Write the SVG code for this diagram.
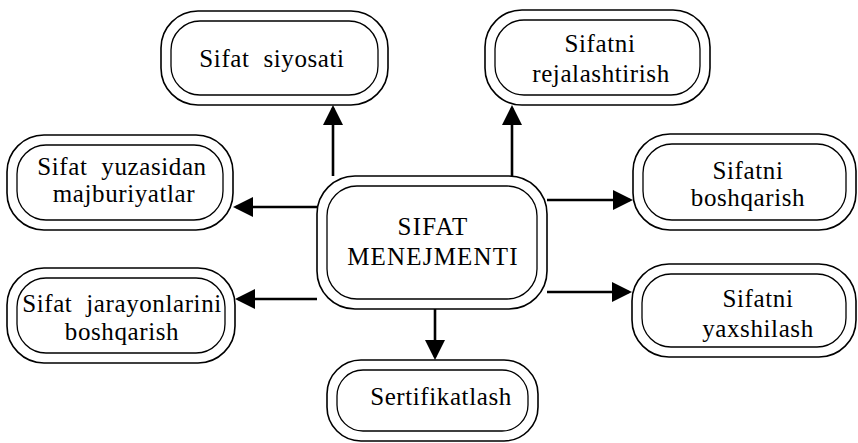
<svg xmlns="http://www.w3.org/2000/svg" width="858" height="443" viewBox="0 0 858 443">
<style>
.o{fill:#fff;stroke:#000;stroke-width:1.6}
.i{fill:none;stroke:#000;stroke-width:1.3}
.t{font-family:"Liberation Serif","Times New Roman",serif;font-size:25px;fill:#000;text-anchor:middle;letter-spacing:0.6px}
.w{word-spacing:7px}
.c{letter-spacing:1.2px}
.e{fill:none;stroke:#000;stroke-width:2.6}
</style>
<defs>
<marker id="ah" markerUnits="userSpaceOnUse" markerWidth="21" markerHeight="21" refX="17" refY="10" orient="auto" viewBox="0 0 21 21">
<path d="M0,0 L20,10 L0,20 Z" fill="#000"/>
</marker>
</defs>
<rect width="858" height="443" fill="#fff"/>
<g id="connectors">
<path class="e" d="M333,176 V108" marker-end="url(#ah)"/>
<path class="e" d="M512,176 V108" marker-end="url(#ah)"/>
<path class="e" d="M547,200 H630" marker-end="url(#ah)"/>
<path class="e" d="M547,292 H629" marker-end="url(#ah)"/>
<path class="e" d="M435,309 V357" marker-end="url(#ah)"/>
<path class="e" d="M317,207 H236" marker-end="url(#ah)"/>
<path class="e" d="M317,299 H238" marker-end="url(#ah)"/>
</g>
<g id="center">
<rect class="o" x="317" y="176" width="230" height="133" rx="38"/>
<rect class="i" x="327" y="186" width="210" height="113" rx="30"/>
<text class="t c" x="433" y="235">SIFAT</text>
<text class="t c" x="433" y="265">MENEJMENTI</text>
</g>
<g id="siyosati">
<rect class="o" x="161" y="11" width="227" height="94" rx="37"/>
<rect class="i" x="171" y="21" width="207" height="74" rx="29"/>
<text class="t w" x="272" y="67">Sifat siyosati</text>
</g>
<g id="rejalashtirish">
<rect class="o" x="485" y="10" width="225" height="95" rx="37"/>
<rect class="i" x="495" y="20" width="205" height="75" rx="29"/>
<text class="t" x="600" y="52">Sifatni</text>
<text class="t" x="601" y="82">rejalashtirish</text>
</g>
<g id="boshqarish">
<rect class="o" x="633" y="134" width="223" height="96" rx="37"/>
<rect class="i" x="643" y="144" width="203" height="76" rx="29"/>
<text class="t" x="748" y="179">Sifatni</text>
<text class="t" x="748" y="206">boshqarish</text>
</g>
<g id="yaxshilash">
<rect class="o" x="632" y="264" width="224" height="93" rx="37"/>
<rect class="i" x="642" y="274" width="204" height="73" rx="29"/>
<text class="t" x="758" y="307">Sifatni</text>
<text class="t" x="758" y="337">yaxshilash</text>
</g>
<g id="sertifikatlash">
<rect class="o" x="327" y="360" width="211" height="81" rx="34"/>
<rect class="i" x="337" y="370" width="191" height="61" rx="26"/>
<text class="t" x="441" y="405">Sertifikatlash</text>
</g>
<g id="yuzasidan">
<rect class="o" x="7" y="135" width="226" height="95" rx="37"/>
<rect class="i" x="17" y="145" width="206" height="75" rx="29"/>
<text class="t w" x="122" y="175">Sifat yuzasidan</text>
<text class="t" x="124" y="202">majburiyatlar</text>
</g>
<g id="jarayonlarini">
<rect class="o" x="7" y="268" width="228" height="95" rx="37"/>
<rect class="i" x="17" y="278" width="208" height="75" rx="29"/>
<text class="t w" x="122" y="312">Sifat jarayonlarini</text>
<text class="t" x="122" y="340">boshqarish</text>
</g>
</svg>
